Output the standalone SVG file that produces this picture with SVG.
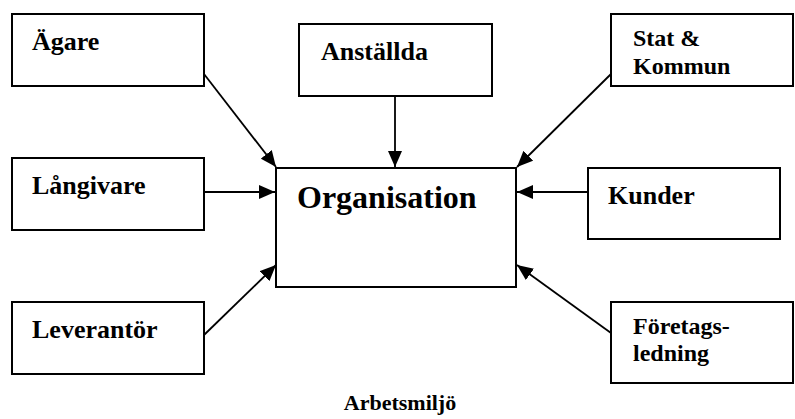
<svg xmlns="http://www.w3.org/2000/svg" width="795" height="419" viewBox="0 0 795 419">
<defs>
<marker id="ah" viewBox="0 0 16 14" refX="16" refY="7" markerWidth="16" markerHeight="14" markerUnits="userSpaceOnUse" orient="auto">
<path d="M0,0 L16,7 L0,14 Z" fill="#000"/>
</marker>
</defs>
<style>
.box{fill:#fff;stroke:#000;stroke-width:2}
text{font-family:'Liberation Serif','Times New Roman',serif;font-weight:bold;font-size:26px;fill:#000}
.s{font-size:24px}
.a{font-size:22px}
.big{font-size:32px}
.c{stroke:#000;stroke-width:1.8;fill:none;marker-end:url(#ah)}
</style>
<rect width="795" height="419" fill="#fff"/>
<g id="connectors">
<line class="c" x1="204" y1="74" x2="276" y2="167"/>
<line class="c" x1="395" y1="96" x2="395" y2="167"/>
<line class="c" x1="611" y1="74" x2="517" y2="167"/>
<line class="c" x1="204" y1="192" x2="275" y2="192"/>
<line class="c" x1="588" y1="192" x2="517" y2="192"/>
<line class="c" x1="204" y1="335" x2="276" y2="265"/>
<line class="c" x1="611" y1="333" x2="517" y2="265"/>
</g>
<g id="organisation">
<rect class="box" x="276" y="168" width="240" height="119"/>
<text class="big" x="297" y="208">Organisation</text>
</g>
<g id="agare">
<rect class="box" x="12" y="14" width="192" height="72"/>
<text x="32" y="50">Ägare</text>
</g>
<g id="anstallda">
<rect class="box" x="299" y="24" width="193" height="72"/>
<text x="321" y="60">Anställda</text>
</g>
<g id="stat">
<rect class="box" x="611" y="14" width="182" height="72"/>
<text class="s" x="633" y="46">Stat &amp;</text>
<text class="s" x="633" y="74">Kommun</text>
</g>
<g id="langivare">
<rect class="box" x="12" y="158" width="192" height="72"/>
<text x="32" y="194">Långivare</text>
</g>
<g id="kunder">
<rect class="box" x="588" y="168" width="192" height="71"/>
<text x="608" y="204">Kunder</text>
</g>
<g id="leverantor">
<rect class="box" x="12" y="302" width="192" height="72"/>
<text x="32" y="338">Leverantör</text>
</g>
<g id="foretagsledning">
<rect class="box" x="611" y="302" width="182" height="81"/>
<text class="s" x="633" y="334">Företags-</text>
<text class="s" x="633" y="361">ledning</text>
</g>
<g id="arbetsmiljo">
<text class="a" x="400" y="410" text-anchor="middle">Arbetsmiljö</text>
</g>
</svg>
